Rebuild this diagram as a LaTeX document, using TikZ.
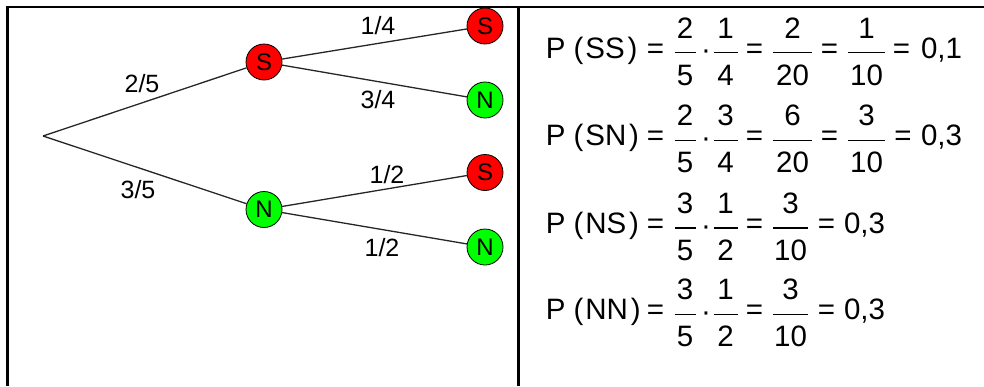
\documentclass[tikz,border=0pt]{standalone}
\usepackage{fontspec}
\setmainfont{Liberation Sans}
\definecolor{sred}{RGB}{255,0,0}
\definecolor{ngreen}{RGB}{0,255,0}
% fraction: name, x centre, bar y, bar width, numerator, denominator
\newcommand\frnode[6]{%
  \node[eqtxt] (#1n) at (#2,#3-14.4) {#5};
  \node[eqtxt] (#1d) at (#2,#3+32.3) {#6};
  \draw[fracbar] (#2-#4/2,#3) -- (#2+#4/2,#3);
}
% equals sign: name, x centre, bar y
\newcommand\eqnode[3]{\node[eqtxt] (#1) at (#2,#3+5.3) {=};}
% multiplication dot: name, x centre, bar y
\newcommand\dotnode[3]{\node[eqtxt] (#1) at (#2,#3+7.2) {·};}
\newcommand\Pof[1]{P\hspace{8pt}(\kern2pt #1\kern2.8pt)}
\begin{document}
\begin{tikzpicture}[x=1pt,y=-1pt,
  state/.style={circle, draw=black, line width=0.8pt, minimum size=36pt, inner sep=0pt, font=\fontsize{24}{24}\selectfont},
  sS/.style={state, fill=sred},
  sN/.style={state, fill=ngreen},
  edge/.style={line width=1.3pt, draw=black!85},
  lbl/.style={font=\fontsize{25}{25}\selectfont, inner sep=0pt},
  eqtxt/.style={anchor=base, inner sep=0pt, font=\fontsize{29.5}{34}\selectfont},
  eqleft/.style={eqtxt, anchor=base west},
  fracbar/.style={line width=1.3pt, draw=black},
  frame/.style={line width=2.3pt, draw=black}]
\useasboundingbox (0,0) rectangle (984,386);
% table frame
\draw[frame] (984,7) -- (7.5,7) -- (7.5,386);
\draw[frame] (518.5,7) -- (518.5,386);
% tree
\coordinate (r) at (43,136);
\node[sS] (s) at (264,62) {S};
\node[sN] (n) at (264,209.5) {N};
\node[sS] (ss) at (485,26) {S};
\node[sN] (sn) at (485,100) {N};
\node[sS] (ns) at (485,172.5) {S};
\node[sN] (nn) at (485,247) {N};
\draw[edge] (r) -- (s);
\draw[edge] (r) -- (n);
\draw[edge] (s) -- (ss);
\draw[edge] (s) -- (sn);
\draw[edge] (n) -- (ns);
\draw[edge] (n) -- (nn);
\node[lbl] (l1) at (142,84) {2/5};
\node[lbl] (l2) at (138,190) {3/5};
\node[lbl] (l3) at (378,26) {1/4};
\node[lbl] (l4) at (378,100) {3/4};
\node[lbl] (l5) at (387,175) {1/2};
\node[lbl] (l6) at (382,248) {1/2};
% row 1
\node[eqleft] (p1) at (545.7,58) {\Pof{SS}};
\eqnode{a1}{655.5}{52.7}
\frnode{f1a}{685}{52.7}{21}{2}{5}
\dotnode{d1}{706}{52.7}
\frnode{f1b}{725.5}{52.7}{24}{1}{4}
\eqnode{b1}{754.5}{52.7}
\frnode{f1c}{792.5}{52.7}{39}{2}{20}
\eqnode{c1}{829.5}{52.7}
\frnode{f1d}{866.5}{52.7}{37}{1}{10}
\eqnode{e1}{901.5}{52.7}
\node[eqleft] (v1) at (920.8,58) {0,1};
% row 2
\node[eqleft] (p2) at (545.7,145.6) {\Pof{SN}};
\eqnode{a2}{655.5}{140.3}
\frnode{f2a}{685}{140.3}{21}{2}{5}
\dotnode{d2}{706}{140.3}
\frnode{f2b}{725.5}{140.3}{24}{3}{4}
\eqnode{b2}{754.5}{140.3}
\frnode{f2c}{792.5}{140.3}{39}{6}{20}
\eqnode{c2}{829.5}{140.3}
\frnode{f2d}{866.5}{140.3}{37}{3}{10}
\eqnode{e2}{903}{140.3}
\node[eqleft] (v2) at (920.8,145.6) {0,3};
% row 3
\node[eqleft] (p3) at (545.7,233.3) {\Pof{NS}};
\eqnode{a3}{655.5}{228}
\frnode{f3a}{685}{228}{21}{3}{5}
\dotnode{d3}{706}{228}
\frnode{f3b}{725.5}{228}{24}{1}{2}
\eqnode{b3}{754.5}{228}
\frnode{f3c}{790.5}{228}{35}{3}{10}
\eqnode{c3}{826.5}{228}
\node[eqleft] (v3) at (843.8,233.3) {0,3};
% row 4
\node[eqleft] (p4) at (545.7,319.6) {\Pof{NN}};
\eqnode{a4}{655.5}{314.3}
\frnode{f4a}{685}{314.3}{21}{3}{5}
\dotnode{d4}{706}{314.3}
\frnode{f4b}{725.5}{314.3}{24}{1}{2}
\eqnode{b4}{754.5}{314.3}
\frnode{f4c}{790.5}{314.3}{35}{3}{10}
\eqnode{c4}{826.5}{314.3}
\node[eqleft] (v4) at (843.8,319.6) {0,3};
\end{tikzpicture}
\end{document}
